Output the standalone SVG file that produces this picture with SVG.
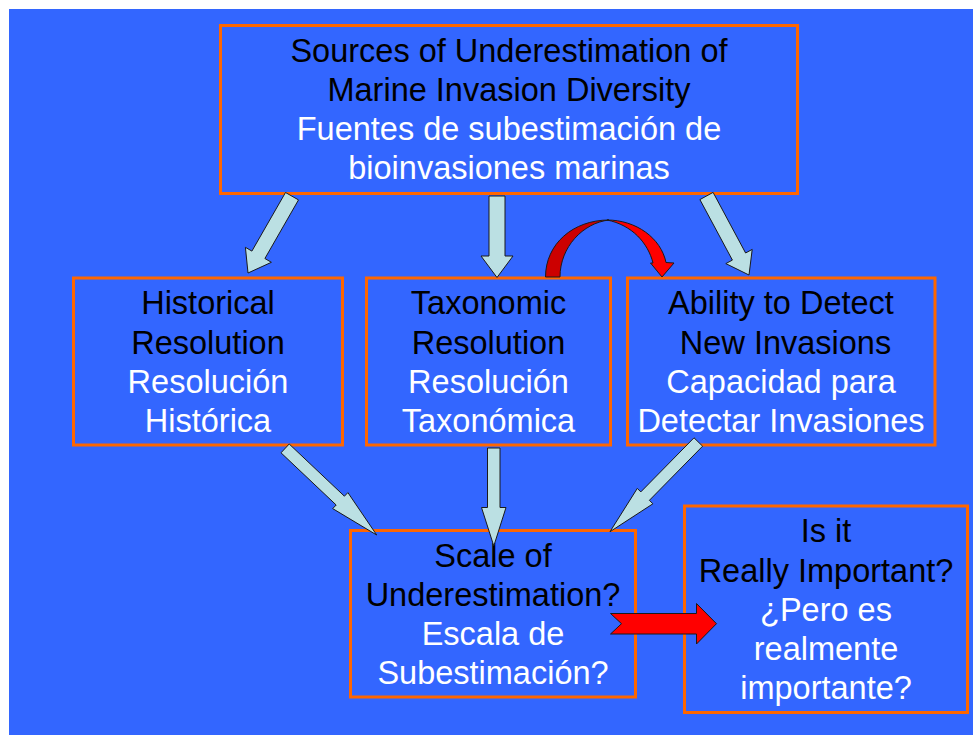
<svg xmlns="http://www.w3.org/2000/svg" width="973" height="735" viewBox="0 0 973 735">
  <style>
    .box { fill: #3366FF; stroke: #FF6600; stroke-width: 3; }
    text { font-family: "Liberation Sans", Arial, sans-serif; font-size: 32.5px; text-anchor: middle; }
    .en { fill: #000000; }
    .es { fill: #FFFFFF; }
    .flow { fill: #BBE0E3; stroke: #1a1a1a; stroke-width: 1; stroke-linejoin: miter; }
    .red { fill: #FF0000; stroke: #1a1a1a; stroke-width: 1; }
    .darkred { fill: #CC0000; stroke: #1a1a1a; stroke-width: 1; }
  </style>

  <!-- page -->
  <rect x="0" y="0" width="973" height="735" fill="#FFFFFF"/>
  <rect x="9" y="9" width="964" height="726" fill="#3366FF"/>

  <g id="node-sources">
    <rect class="box" x="220.5" y="25.5" width="577" height="168"/>
    <text x="509" y="62" class="en">Sources of Underestimation of</text>
    <text x="509" y="101" class="en">Marine Invasion Diversity</text>
    <text x="509" y="140" class="es">Fuentes de subestimación de</text>
    <text x="509" y="179" class="es">bioinvasiones marinas</text>
  </g>

  <g id="node-historical">
    <rect class="box" x="73.5" y="278" width="269" height="167"/>
    <text x="208" y="314" class="en">Historical</text>
    <text x="208" y="353.5" class="en">Resolution</text>
    <text x="208" y="393" class="es">Resolución</text>
    <text x="208" y="432" class="es">Histórica</text>
  </g>

  <g id="node-taxonomic">
    <rect class="box" x="366.5" y="278" width="244" height="167"/>
    <text x="488.5" y="314" class="en">Taxonomic</text>
    <text x="488.5" y="353.5" class="en">Resolution</text>
    <text x="488.5" y="393" class="es">Resolución</text>
    <text x="488.5" y="432" class="es">Taxonómica</text>
  </g>

  <g id="node-detect">
    <rect class="box" x="627.5" y="278" width="307.5" height="167"/>
    <text x="781" y="314" class="en">Ability to Detect</text>
    <text x="781" y="353.5" class="en" xml:space="preserve"> New Invasions</text>
    <text x="781" y="393" class="es">Capacidad para</text>
    <text x="781" y="432" class="es">Detectar Invasiones</text>
  </g>

  <g id="node-scale">
    <rect class="box" x="350.5" y="530.5" width="285" height="166.5"/>
    <text x="493" y="567" class="en">Scale of</text>
    <text x="493" y="606" class="en">Underestimation?</text>
    <text x="493" y="645" class="es">Escala de</text>
    <text x="493" y="684" class="es">Subestimación?</text>
  </g>

  <g id="node-important">
    <rect class="box" x="684.5" y="506" width="283" height="206.5"/>
    <text x="826" y="542" class="en">Is it</text>
    <text x="826" y="581.5" class="en">Really Important?</text>
    <text x="826" y="620.5" class="es">¿Pero es</text>
    <text x="826" y="660" class="es">realmente</text>
    <text x="826" y="699" class="es">importante?</text>
  </g>

  <g id="connectors">
    <!-- sources to the three resolution boxes -->
    <polygon class="flow" points="285.5,192.5 298.5,199.9 264.9,258.5 271.4,262.3 248,273 245.4,247.3 251.9,251.1"/>
    <polygon class="flow" points="489,196 505,196 505,256 513,256 497,277.5 481,256 489,256"/>
    <polygon class="flow" points="713.1,192.4 745.6,253 752.2,249.4 749,275 725.8,263.6 732.4,260.1 699.9,199.6"/>

    <!-- curved link from taxonomic to detection -->
    <path class="darkred" d="M545.5,277 C545.5,244 573,220 609,220 C583,223 560,247 560,277 Z"/>
    <path class="red" d="M607,220 C636,220 661,238 666,262.5 L674,263 L662,277 L650.5,263 L653,263 C648,243 632,225 607,220 Z"/>

    <!-- the three resolution boxes to the scale box -->
    <polygon class="flow" points="289.2,444 344.4,496.2 347.9,492.6 376.7,535 332.7,508.6 336.2,505 281,452.8"/>
    <polygon class="flow" points="487.5,448 500,448 500,507.5 506,507.5 493.8,546 481.5,507.5 487.5,507.5"/>
    <polygon class="flow" points="702.6,446.2 649.4,500.3 652.9,503.8 610,531.7 637.3,488.4 640.8,491.9 694,437.8"/>

    <!-- scale to importance -->
    <polygon class="red" points="610.5,613.5 696.5,613.5 696.5,603.5 716.5,623.7 696.5,644 696.5,634 610.5,634 621.5,623.7"/>
  </g>
</svg>
